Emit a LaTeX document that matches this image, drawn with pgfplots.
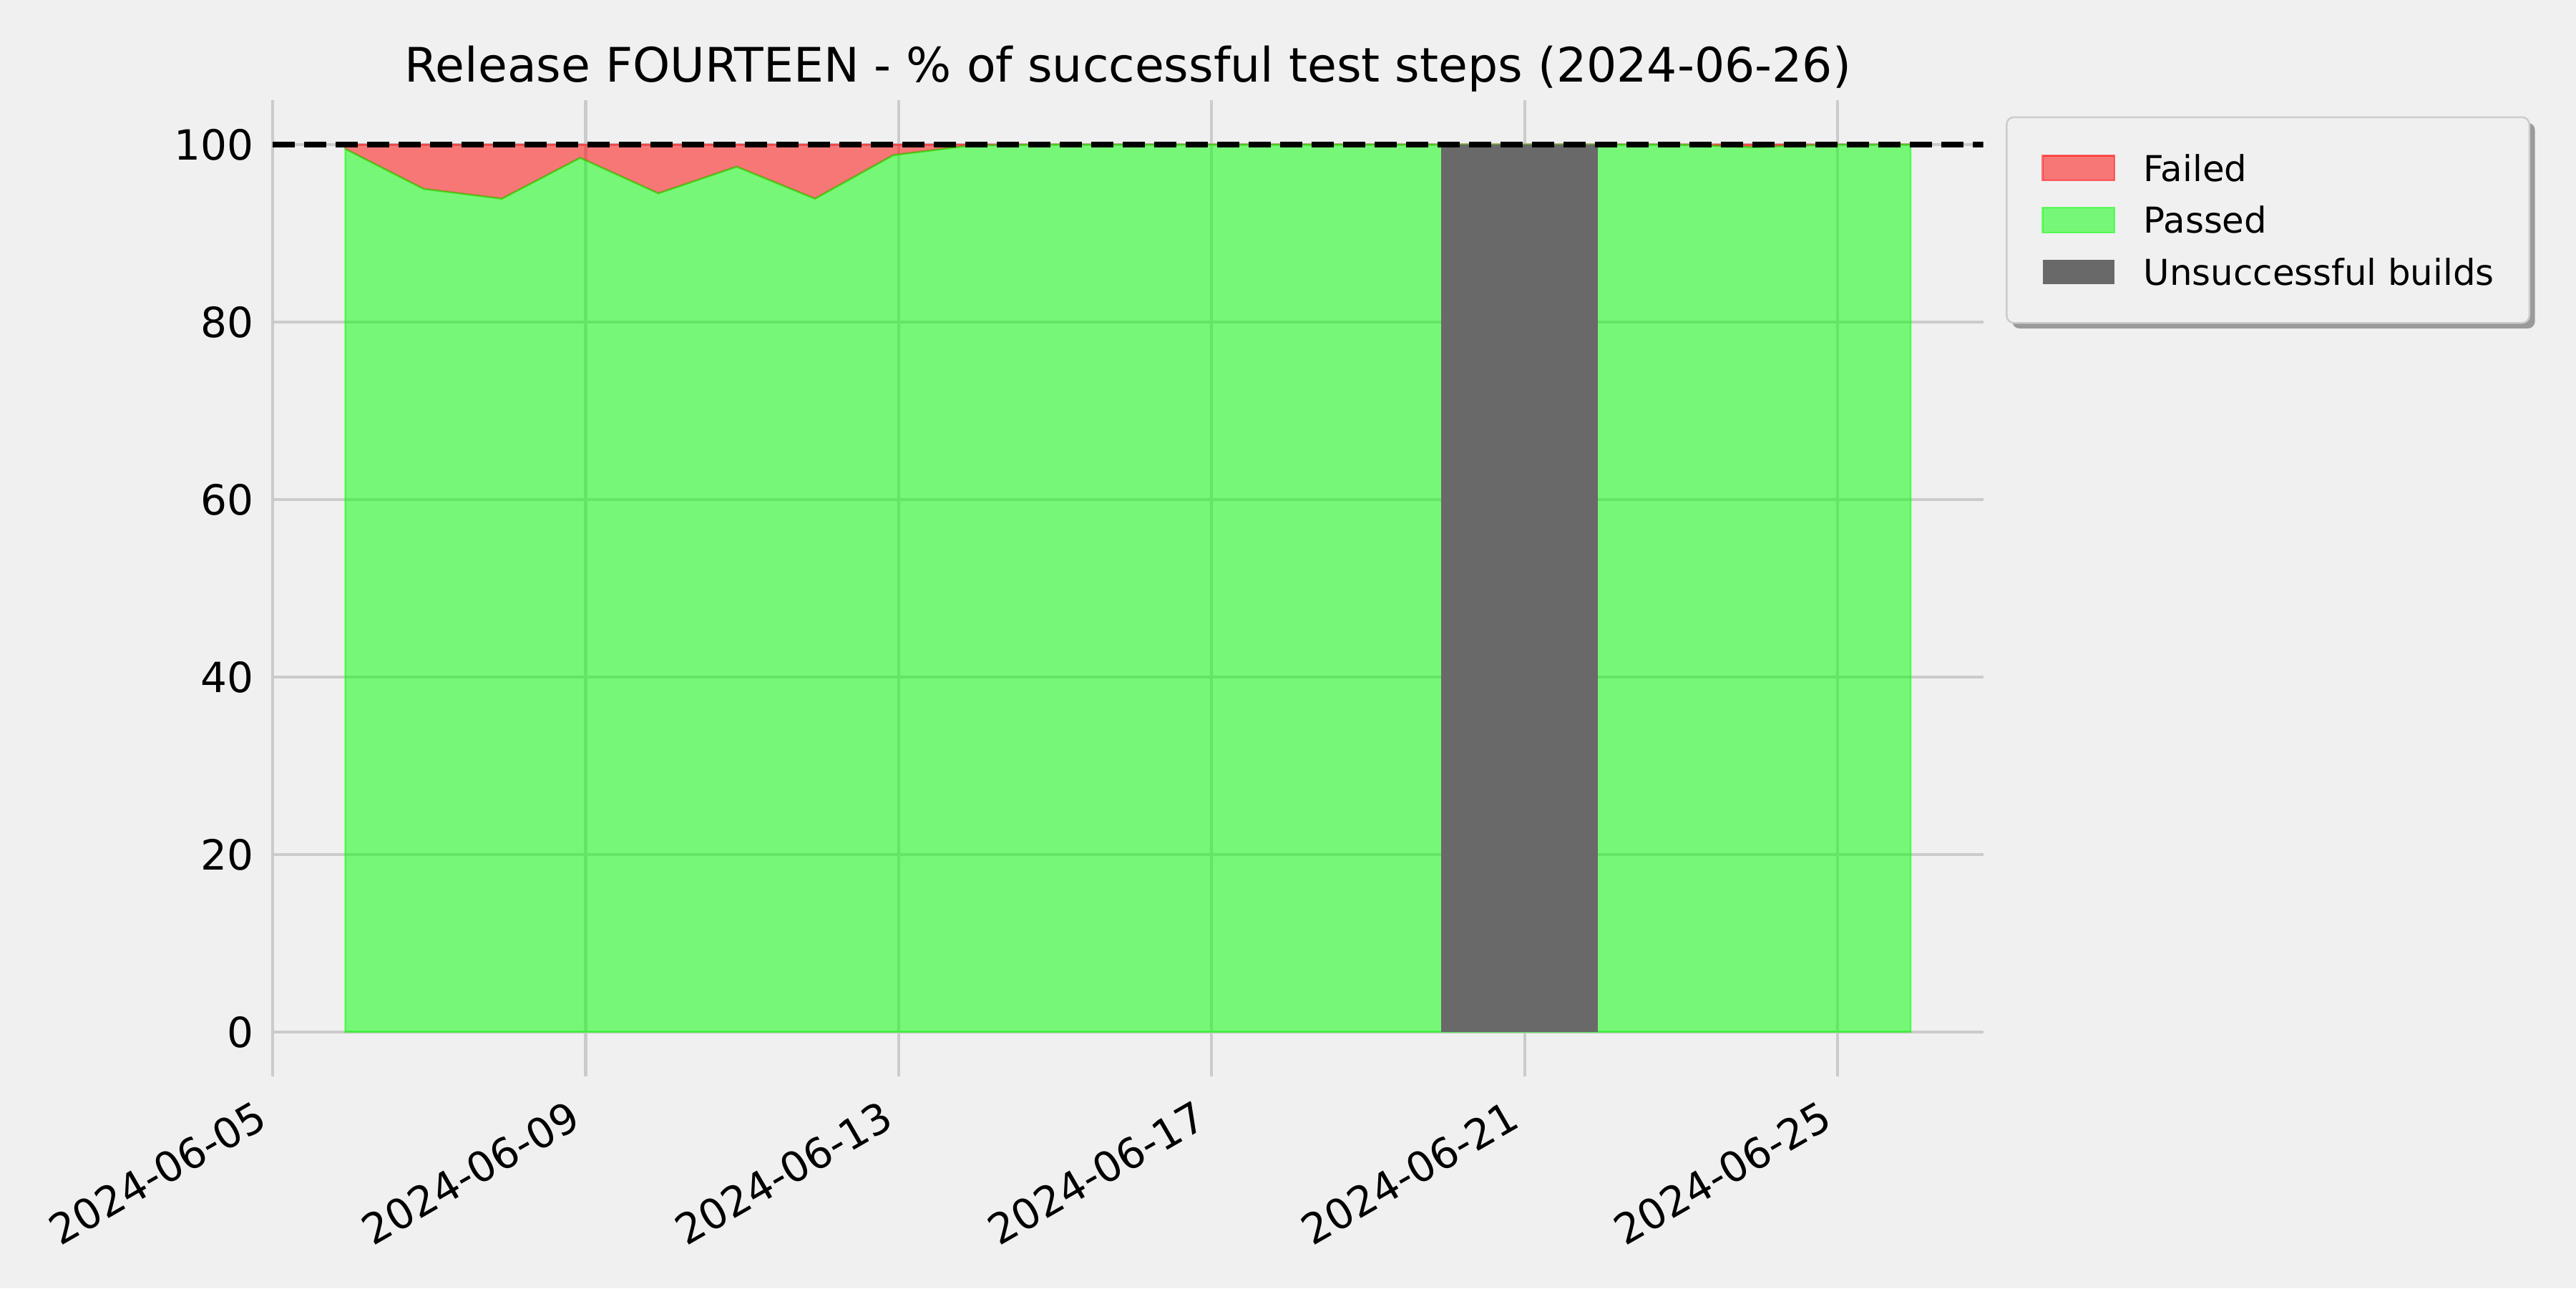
\documentclass[border=0pt]{standalone}
\usepackage{fontspec}
\setmainfont{DejaVu Sans}
\usepackage{pgfplots}
\pgfplotsset{compat=1.18}
\usetikzlibrary{shadows}
\definecolor{bgcol}{HTML}{F0F0F0}
\definecolor{gridcol}{HTML}{CBCBCB}
\definecolor{limecol}{HTML}{00FF00}
\definecolor{redcol}{HTML}{FF0000}
\definecolor{dimgraycol}{HTML}{696969}
\definecolor{framecol}{HTML}{CCCCCC}
\definecolor{shadowcol}{HTML}{9A9A9A}
\makeatletter
\tikzset{nopreactions/.code={\let\tikz@preactions\pgfutil@empty}}
\makeatother
\pgfplotsset{
  patchlegend/.style={legend image code/.code={%
    \path[nopreactions, sharp corners, ##1, line width=0.6pt] (0pt,-4.2pt) rectangle (24.2pt,4.2pt);}}
}
\begin{document}
\begin{tikzpicture}
\fill[bgcol] (0,0) rectangle (12in,6in);
\begin{axis}[
  at={(1.27in,0.9867in)}, anchor=south west,
  scale only axis, width=7.969in, height=4.547in,
  xmin=0, xmax=21.86, ymin=-5, ymax=105,
  axis background/.style={fill=bgcol},
  axis line style={draw=none},
  major tick length=0pt, tick style={draw=none},
  grid=major, grid style={color=gridcol, line width=1pt},
  xtick={0,4,8,12,16,20},
  xticklabels={2024-06-05,2024-06-09,2024-06-13,2024-06-17,2024-06-21,2024-06-25},
  ytick={0,20,40,60,80,100},
  yticklabels={0,20,40,60,80,100},
  /pgf/number format/assume math mode=true,
  ticklabel style={font=\fontsize{14}{16.8}\selectfont, inner sep=0pt},
  xticklabel style={rotate=30, anchor=north east, xshift=-9pt, yshift=-3.3pt},
  yticklabel style={anchor=east, xshift=-6.2pt},
  title={Release FOURTEEN - \% of successful test steps (2024-06-26)},
  title style={font=\fontsize{16}{19.2}\selectfont, at={(0.5,1)}, anchor=base, yshift=0pt, inner sep=0pt},
  legend cell align=left,
  legend style={
    at={(1.0131,0.9834)}, anchor=north west,
    fill=bgcol, draw=framecol, line width=0.6pt, rounded corners=2.4pt,
    drop shadow={shadow xshift=1.9pt, shadow yshift=-1.9pt, fill=shadowcol, opacity=1},
    font=\fontsize{12}{14.4}\selectfont,
    inner xsep=11.8pt, inner ysep=11.5pt,
    row sep=6.3pt, column sep=9.5pt,
    nodes={inner sep=0pt, text height=10pt, text depth=1.2pt},
  },
]
% Failed: area between passed line and 100
\addplot[patchlegend, fill=redcol, fill opacity=0.5, draw=redcol, draw opacity=0.5, line width=0.6pt] coordinates {
  (0.93,99.5) (1.93,95.0) (2.93,93.9) (3.93,98.5) (4.93,94.5) (5.93,97.5) (6.93,93.9)
  (7.93,98.8) (8.93,99.9) (9.93,100) (10.93,100) (11.93,100) (12.93,100) (13.93,100)
  (14.93,100) (15.93,100) (16.93,100) (17.93,100) (18.93,99.7) (19.93,100) (20.93,100)
  (20.93,100) (0.93,100)
} -- cycle;
\addlegendentry{Failed}
% Passed
\addplot[patchlegend, fill=limecol, fill opacity=0.5, draw=limecol, draw opacity=0.5, line width=0.6pt] coordinates {
  (0.93,0) (0.93,99.5) (1.93,95.0) (2.93,93.9) (3.93,98.5) (4.93,94.5) (5.93,97.5) (6.93,93.9)
  (7.93,98.8) (8.93,99.9) (9.93,100) (10.93,100) (11.93,100) (12.93,100) (13.93,100)
  (14.93,100) (15.93,100) (16.93,100) (17.93,100) (18.93,99.7) (19.93,100) (20.93,100)
  (20.93,0)
} -- cycle;
\addlegendentry{Passed}
% Unsuccessful builds
\addplot[patchlegend, fill=dimgraycol, draw=none] coordinates {
  (14.93,0) (14.93,100) (16.93,100) (16.93,0)
} -- cycle;
\addlegendentry{Unsuccessful builds}
% reference line at 100
\addplot[forget plot, black, line width=2pt, dash pattern=on 7.4pt off 3.2pt] coordinates {(0,100) (21.86,100)};
\end{axis}
\pgfresetboundingbox
\useasboundingbox (0,0) rectangle (12in,6in);
\end{tikzpicture}
\end{document}
